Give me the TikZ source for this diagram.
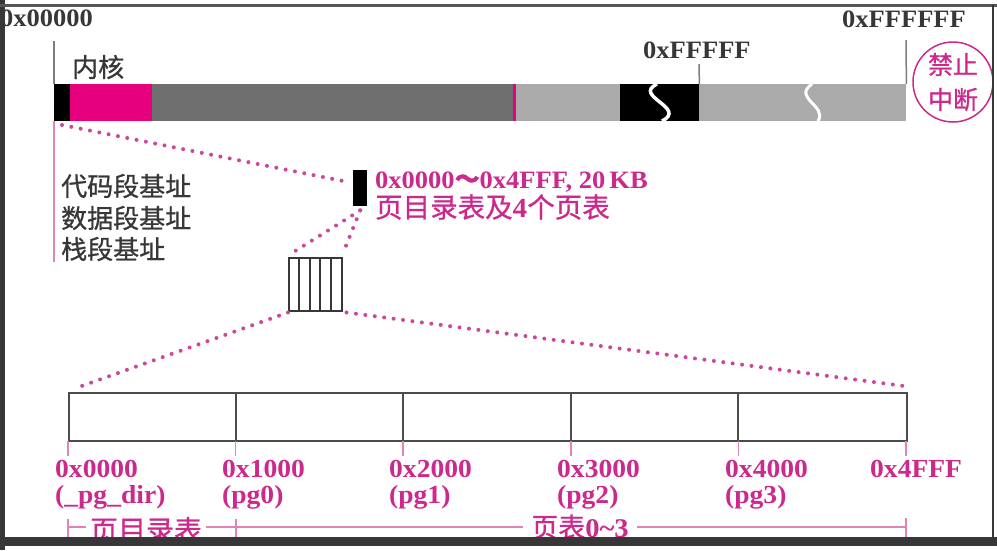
\documentclass[tikz,border=0pt]{standalone}
\usepackage{fontspec}
\setmainfont{Liberation Serif}
\newfontfamily\latw[FakeStretch=1.06]{Liberation Serif}
\newfontfamily\cjk[FakeBold=0.8]{Noto Sans CJK SC}
\definecolor{barmag}{RGB}{230,0,126}
\definecolor{txtmag}{RGB}{205,40,140}
\definecolor{dotmag}{RGB}{205,70,155}
\definecolor{ticpink}{RGB}{225,130,185}
\definecolor{darkgr}{RGB}{110,110,110}
\definecolor{lightgr}{RGB}{170,170,170}
\definecolor{txtdark}{RGB}{55,55,55}
\definecolor{framec}{RGB}{55,55,55}
\definecolor{tickg}{RGB}{125,125,125}
\begin{document}
\begin{tikzpicture}[x=1pt,y=-1pt,
  lat/.style={inner sep=0pt, font=\fontsize{25}{28}\selectfont\latw\bfseries},
  zh/.style={inner sep=0pt, font=\fontsize{26}{30}\selectfont\cjk},
  seg/.style={inner sep=0pt, anchor=north west, minimum height=37pt},
  dots/.style={dotmag, line width=4pt, line cap=round, dash pattern=on 0pt off 9.5pt},
  gtick/.style={tickg, line width=1.5pt},
  ptick/.style={ticpink, line width=1.5pt},
  tline/.style={draw=txtdark!90, line width=2pt}]
\useasboundingbox (0,0) rectangle (997,550);
\fill[white] (0,0) rectangle (997,550);
% bar
\node[seg, fill=black, minimum width=16pt] (b1) at (54,84) {};
\node[seg, fill=barmag, minimum width=82pt] (b2) at (70,84) {};
\node[seg, fill=darkgr, minimum width=362pt] (b3) at (152,84) {};
\node[seg, fill=barmag, minimum width=3pt] (b4) at (513,84) {};
\node[seg, fill=lightgr, minimum width=104pt] (b5) at (516,84) {};
\node[seg, fill=black, minimum width=79pt] (b6) at (620,84) {};
\node[seg, fill=lightgr, minimum width=207pt] (b7) at (699,84) {};
\draw[white, line width=3.5pt] (657,84) .. controls (632,96) and (688,108) .. (662,121);
\draw[white, line width=3pt] (812,84) .. controls (792,98) and (828,106) .. (818,121);
% ticks above bar
\coordinate (t0) at (54,41);
\coordinate (t1) at (699,64);
\coordinate (t2) at (906,40);
\draw[gtick] (t0) -- (b1.north west);
\draw[gtick] (t1) -- (b6.north east);
\draw[gtick] (t2) -- (b7.north east);
\coordinate (pv) at (54,262);
\draw[ptick] (b1.south west) -- (pv);
% top labels
\node[lat, text=txtdark, anchor=base west] (l0) at (0,26) {0x00000};
\node[lat, text=txtdark, anchor=base west] (l6) at (842,27) {0xFFFFFF};
\node[lat, text=txtdark, anchor=base west] (l5) at (643,58) {0xFFFFF};
\node[zh, text=txtdark, anchor=west] (kern) at (72,67) {内核};
\node[circle, draw=txtmag, line width=1.5pt, minimum size=80pt, inner sep=0pt, text=txtmag, align=center, font=\fontsize{25}{35}\selectfont\cjk] (ni) at (953,82) {禁止\\中断};
% left labels
\node[zh, text=txtdark, anchor=west] (cs) at (61,186) {代码段基址};
\node[zh, text=txtdark, anchor=west] (ds) at (61,218) {数据段基址};
\node[zh, text=txtdark, anchor=west] (ss) at (61,249) {栈段基址};
% small block
\node[fill=black, inner sep=0pt, anchor=north west, minimum width=14pt, minimum height=36pt] (blk) at (353,170) {};
\node[lat, text=txtmag, anchor=base west] (rng) at (375,188) {0x0000{\cjk ～}0x4FFF, 20\,KB};
\node[zh, text=txtmag, anchor=west, font=\fontsize{27.5}{30}\selectfont\cjk] (rngt) at (375,207) {页目录表及{\latw\bfseries 4}个页表};
% striped block
\node[draw=txtdark, line width=1.5pt, inner sep=0pt, anchor=north west, minimum width=53pt, minimum height=53pt] (st) at (288,257) {};
\foreach \x in {299,310,320,331} \draw[txtdark, line width=1.5pt] (\x,257) -- (\x,310);
% table
\node[tline, inner sep=0pt, anchor=north west, minimum width=838pt, minimum height=48pt] (tbl) at (68,392) {};
\foreach \i in {1,...,4} \draw[tline] ({68+167.6*\i},392) -- ({68+167.6*\i},440);
\foreach \i in {0,...,5} \draw[ptick] ({68+167.6*\i},441) -- ({68+167.6*\i},456);
% dotted connectors
\coordinate (d1) at (62,125);
\draw[dots] (d1) -- ([xshift=-4pt,yshift=6pt]blk.west);
\draw[dots] ([yshift=-4pt]blk.south) -- ([xshift=4pt,yshift=4pt]st.north west);
\draw[dots] ([yshift=-4pt]blk.south) -- ([xshift=1pt,yshift=5pt]st.north east);
\draw[dots] ([yshift=-1pt]st.south west) -- ([xshift=8pt,yshift=4pt]tbl.north west);
\draw[dots] ([xshift=4pt,yshift=-1pt]st.south east) -- ([xshift=-4pt,yshift=6pt]tbl.north east);
% address labels
\tikzset{addr/.style={lat, text=txtmag, anchor=base west, font=\fontsize{26}{28}\selectfont\latw\bfseries}}
\node[addr] (a0) at (55,477) {0x0000};
\node[addr] (n0) at (55,503) {(\_pg\_dir)};
\node[addr] (a1) at (222,477) {0x1000};
\node[addr] (n1) at (222,503) {(pg0)};
\node[addr] (a2) at (389,477) {0x2000};
\node[addr] (n2) at (389,503) {(pg1)};
\node[addr] (a3) at (557,477) {0x3000};
\node[addr] (n3) at (557,503) {(pg2)};
\node[addr] (a4) at (725,477) {0x4000};
\node[addr] (n4) at (725,503) {(pg3)};
\node[addr] (a5) at (870,477) {0x4FFF};
% bottom span row
\coordinate (s0) at (68,527);
\coordinate (s1) at (236,527);
\coordinate (s2) at (906,527);
\draw[ptick] (s0) -- (s2);
\draw[ptick] ([yshift=8pt]s0) -- ([yshift=-10pt]s0);
\draw[ptick] ([yshift=8pt]s1) -- ([yshift=-10pt]s1);
\draw[ptick] ([yshift=9pt]s2) -- ([yshift=-10pt]s2);
\node[zh, text=txtmag, fill=white, inner xsep=4pt, font=\fontsize{28}{30}\selectfont\cjk] (pdt) at (146,530) {页目录表};
\node[zh, text=txtmag, fill=white, inner xsep=8pt, font=\fontsize{27}{30}\selectfont\cjk] (ptb) at (580,527) {页表{\latw\bfseries 0\textasciitilde 3}};
% screenshot frame
\fill[framec] (0,0) rectangle (5,550);
\fill[framec!85] (0,4) rectangle (997,7);
\fill[framec] (992,5) rectangle (994,540);
\fill[framec] (0,537) rectangle (997,546);
\end{tikzpicture}
\end{document}
